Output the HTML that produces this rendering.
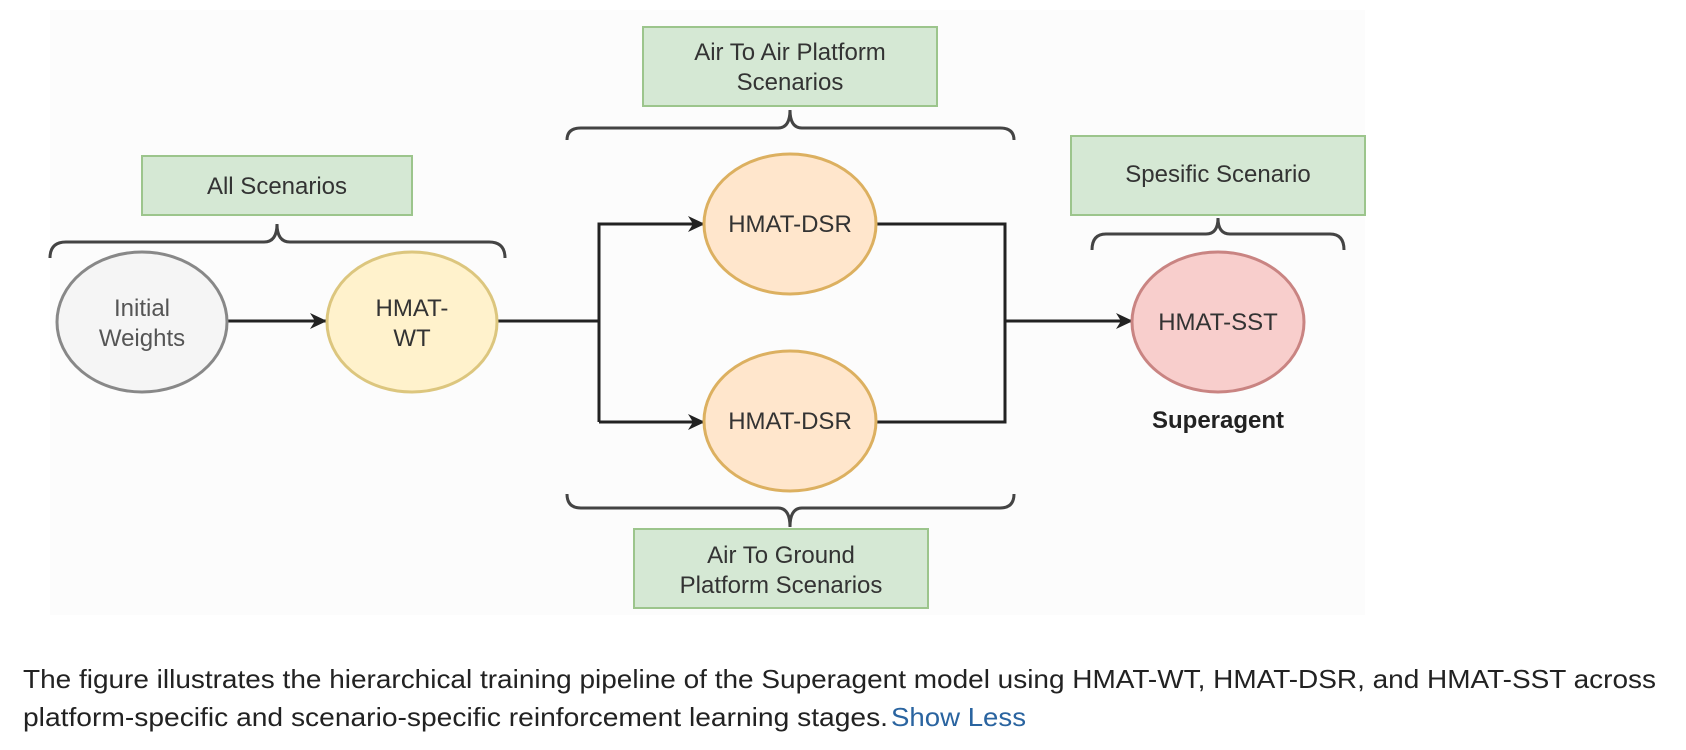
<!DOCTYPE html>
<html><head><meta charset="utf-8"><style>
html,body{margin:0;padding:0;background:#fff;}
svg{display:block;}
text{font-family:"Liberation Sans",Arial,sans-serif;}
</style></head><body>
<svg width="1686" height="750" viewBox="0 0 1686 750" xmlns="http://www.w3.org/2000/svg">
<rect x="50" y="10" width="1315" height="605" fill="#fcfcfc"/>
<defs><marker id="ah" markerWidth="18" markerHeight="18" refX="16" refY="8" orient="auto" markerUnits="userSpaceOnUse"><path d="M0,0 L17,8 L0,16 L5,8 Z" fill="#222"/></marker></defs>
<g fill="#d5e8d4" stroke="#9cc58c" stroke-width="2">
<rect x="142" y="156" width="270" height="59"/>
<rect x="643" y="27" width="294" height="79"/>
<rect x="1071" y="136" width="294" height="79"/>
<rect x="634" y="529" width="294" height="79"/>
</g>
<g font-size="24" fill="#333" text-anchor="middle">
<text x="277" y="194">All Scenarios</text>
<text x="790" y="60">Air To Air Platform</text>
<text x="790" y="90">Scenarios</text>
<text x="1218" y="182">Spesific Scenario</text>
<text x="781" y="563">Air To Ground</text>
<text x="781" y="593">Platform Scenarios</text>
</g>
<g fill="none" stroke="#444" stroke-width="3">
<path d="M50,258 Q50,242 66,242 L264,242 Q277,242 277,224 Q277,242 290,242 L489,242 Q505,242 505,258"/>
<path d="M567,140 Q567,128 581,128 L778,128 Q790,128 790,110 Q790,128 802,128 L1000,128 Q1014,128 1014,140"/>
<path d="M567,494 Q567,508 581,508 L778,508 Q790,508 790,527 Q790,508 802,508 L1000,508 Q1014,508 1014,494"/>
<path d="M1092,250 Q1092,234 1106,234 L1206,234 Q1218,234 1218,218 Q1218,234 1230,234 L1330,234 Q1344,234 1344,250"/>
</g>
<g stroke="#222" stroke-width="3" fill="none">
<line x1="228" y1="321" x2="326" y2="321" marker-end="url(#ah)"/>
<polyline points="498,321 599,321"/>
<polyline points="599,422 599,224 704,224" marker-end="url(#ah)"/>
<polyline points="599,422 704,422" marker-end="url(#ah)"/>
<polyline points="876,224 1005,224 1005,422 876,422"/>
<line x1="1005" y1="321" x2="1132" y2="321" marker-end="url(#ah)"/>
</g>
<ellipse cx="142" cy="322" rx="85" ry="70" fill="#f5f5f5" stroke="#888" stroke-width="3"/>
<ellipse cx="412" cy="322" rx="85" ry="70" fill="#fff2cc" stroke="#dcc67e" stroke-width="3"/>
<ellipse cx="790" cy="224" rx="86" ry="70" fill="#ffe6cc" stroke="#dcb060" stroke-width="3"/>
<ellipse cx="790" cy="421" rx="86" ry="70" fill="#ffe6cc" stroke="#dcb060" stroke-width="3"/>
<ellipse cx="1218" cy="322" rx="86" ry="70" fill="#f8cecc" stroke="#c98482" stroke-width="3"/>
<g font-size="24" fill="#333" text-anchor="middle">
<text x="142" y="316" fill="#555">Initial</text>
<text x="142" y="346" fill="#555">Weights</text>
<text x="412" y="316">HMAT-</text>
<text x="412" y="346">WT</text>
<text x="790" y="232">HMAT-DSR</text>
<text x="790" y="429">HMAT-DSR</text>
<text x="1218" y="330">HMAT-SST</text>
<text x="1218" y="428" font-weight="bold" fill="#222">Superagent</text>
</g>
<g font-size="26" fill="#222">
<text x="23" y="688" textLength="1633" lengthAdjust="spacingAndGlyphs">The figure illustrates the hierarchical training pipeline of the Superagent model using HMAT-WT, HMAT-DSR, and HMAT-SST across</text>
<text x="23" y="726" textLength="865" lengthAdjust="spacingAndGlyphs">platform-specific and scenario-specific reinforcement learning stages.</text>
<text x="891" y="726" fill="#2a64a0" textLength="135" lengthAdjust="spacingAndGlyphs">Show Less</text>
</g>
</svg>
</body></html>
